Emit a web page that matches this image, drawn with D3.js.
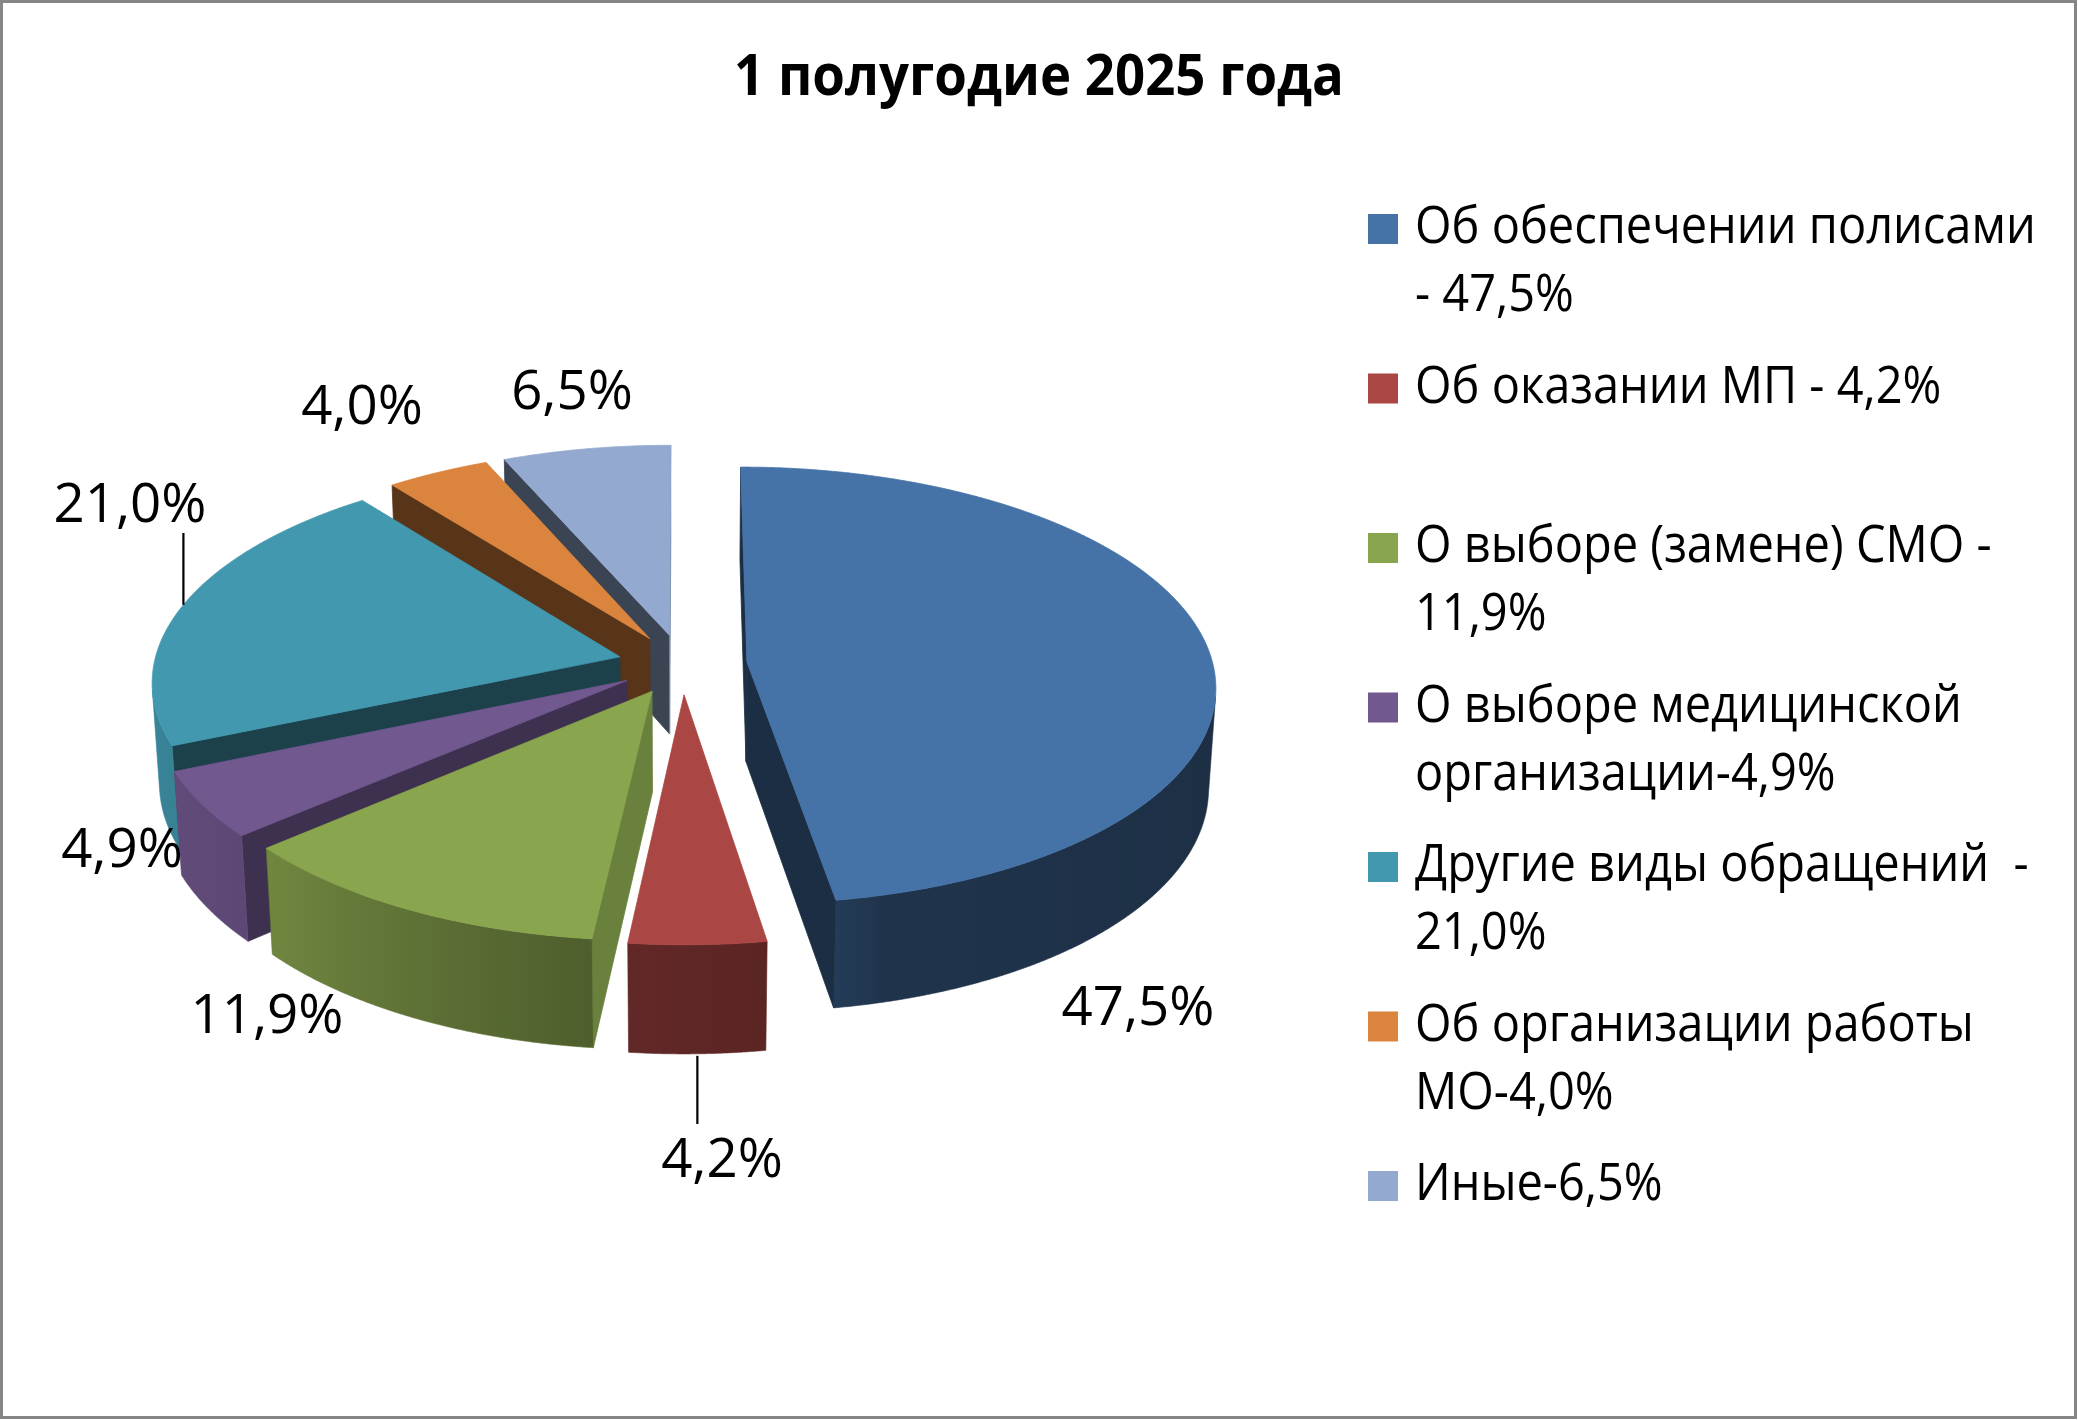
<!DOCTYPE html>
<html><head><meta charset="utf-8">
<script src="https://cdn.jsdelivr.net/npm/d3@7"></script>
<style>html,body{margin:0;padding:0;background:#fff;} svg{display:block;}</style>
</head><body>
<svg id="chart" width="2078" height="1420"></svg>
<script>
// ---------- data ----------
const chartTitle = "1 полугодие 2025 года";
const categories = ["Об обеспечении полисами", "Об оказании МП", "О выборе (замене) СМО",
  "О выборе медицинской организации", "Другие виды обращений", "Об организации работы МО", "Иные"];
const values = [47.5, 4.2, 11.9, 4.9, 21.0, 4.0, 6.5];
const valueLabels = ["47,5%", "4,2%", "11,9%", "4,9%", "21,0%", "4,0%", "6,5%"];
const legendLines = [
  ["Об обеспечении полисами", "- 47,5%"],
  ["Об оказании МП - 4,2%"],
  ["О выборе (замене) СМО -", "11,9%"],
  ["О выборе медицинской", "организации-4,9%"],
  ["Другие виды обращений  -", "21,0%"],
  ["Об организации работы", "МО-4,0%"],
  ["Иные-6,5%"]
];
const colors = ["#4572A7", "#AA4643", "#89A54E", "#71588F", "#4198AF", "#DB843D", "#93A9CF"];

// ---------- layout ----------
const W = 2078, H = 1420;
const FONT = "'Open Sans', 'Noto Sans', 'DejaVu Sans', sans-serif";
const labelPos = [[1138, 1025], [722, 1177], [267, 1033], [122, 867], [130, 522], [362, 424], [572, 409]];
const leaderIdx = [1, 4];
const cam = {x0: 682.4, y0: 664.3, f: 3854, d: 8.27, sinP: 0.464};
cam.cosP = Math.sqrt(1 - cam.sinP * cam.sinP);
const explode = 0.139, depth = 0.245;

const svg = d3.select("#chart");
svg.append("rect").attr("x", 1.5).attr("y", 1.5).attr("width", W - 4).attr("height", H - 4)
  .attr("fill", "#fff").attr("stroke", "#868686").attr("stroke-width", 3);

function fit(text, targetW, weight) {
  const t = svg.append("text").attr("font-family", FONT).attr("font-weight", weight || "normal")
    .attr("font-size", 100).style("white-space", "pre").text(text);
  const w = t.node().getComputedTextLength();
  t.remove();
  return 100 * targetW / w;
}
function addText(x, y, txt, size, opts) {
  const o = opts || {};
  return svg.append("text")
    .attr("transform", `translate(${x},${y}) scale(1,${o.sy || 1})`)
    .attr("text-anchor", o.anchor || "start").attr("font-family", FONT)
    .attr("font-weight", o.weight || "normal").attr("font-size", size)
    .attr("fill", "#000").style("white-space", "pre").text(txt);
}

// ---------- 3D projection ----------
function project(X, Y, Z) {
  const zc = cam.d - Y * cam.sinP - Z * cam.cosP;
  return [cam.x0 + cam.f * X / zc, cam.y0 - cam.f * (Y * cam.cosP - Z * cam.sinP) / zc];
}
const camZ = cam.d * cam.cosP;
const pie = d3.pie().sort(null).value(d => d).startAngle(0).endAngle(2 * Math.PI);
const arcs = pie(values);
const slices = arcs.map((a, i) => {
  const m = (a.startAngle + a.endAngle) / 2;
  return {i, a0: a.startAngle, a1: a.endAngle, m,
    ox: explode * Math.sin(m), oz: -explode * Math.cos(m),
    key: -(explode + 0.5) * Math.cos(m)};
});
const rim = (s, t, Y) => project(s.ox + Math.sin(t), Y, s.oz - Math.cos(t));
const apex = (s, Y) => project(s.ox, Y, s.oz);
const step = Math.PI / 720;
function angles(a0, a1) {
  const n = Math.max(2, Math.ceil((a1 - a0) / step));
  return d3.range(n + 1).map(k => a0 + (a1 - a0) * k / n);
}
const shade = (c, b) => d3.interpolateRgb("#000", c)(b);
const wallB = d3.scaleLinear().domain([90, 165, 172, 186, 229, 250, 280])
  .range([0.40, 0.45, 0.54, 0.57, 0.82, 0.86, 0.90]).clamp(true);
const faceB = (nx, nz) => 0.4 + 0.42 * Math.max(0, nx * 0.94 - nz * 0.34);
const line = d3.line();
const defs = svg.append("defs");
const gPie = svg.append("g");

slices.slice().sort((p, q) => p.key - q.key).forEach(s => {
  const g = gPie.append("g");
  const col = colors[s.i];
  const poly = (pts, fill) => g.append("path").attr("d", line(pts) + "Z").attr("fill", fill)
    .attr("stroke", fill).attr("stroke-width", 0.8).attr("stroke-linejoin", "round");
  // radial faces
  const startVis = Math.cos(s.a0) * s.ox - Math.sin(s.a0) * (camZ - s.oz);
  const endVis = -Math.cos(s.a1) * s.ox + Math.sin(s.a1) * (camZ - s.oz);
  if (startVis > 0) {
    const c = shade(col, faceB(-Math.cos(s.a0), -Math.sin(s.a0)));
    poly([apex(s, 0), rim(s, s.a0, 0), rim(s, s.a0, -depth), apex(s, -depth)], c);
  }
  if (endVis > 0) {
    const c = shade(col, faceB(Math.cos(s.a1), Math.sin(s.a1)));
    poly([apex(s, 0), rim(s, s.a1, 0), rim(s, s.a1, -depth), apex(s, -depth)], c);
  }
  // outer wall
  const vis = angles(s.a0, s.a1).filter(t =>
    -Math.sin(t) * s.ox + Math.cos(t) * s.oz - 1 - Math.cos(t) * camZ > 0);
  if (vis.length > 1) {
    const top = vis.map(t => rim(s, t, 0));
    const bot = vis.map(t => rim(s, t, -depth)).reverse();
    const xs = top.map(p => p[0]);
    const x0 = d3.min(xs), x1 = d3.max(xs);
    const gid = "wall" + s.i;
    const grad = defs.append("linearGradient").attr("id", gid)
      .attr("gradientUnits", "userSpaceOnUse").attr("x1", x0).attr("x2", x1).attr("y1", 0).attr("y2", 0);
    const stops = [];
    for (let k = 0; k < vis.length; k += 8) stops.push(k);
    if (stops[stops.length - 1] !== vis.length - 1) stops.push(vis.length - 1);
    stops.map(k => ({o: (xs[k] - x0) / Math.max(1, x1 - x0), c: shade(col, wallB(vis[k] * 180 / Math.PI))}))
      .sort((a, b) => a.o - b.o)
      .forEach(st => grad.append("stop").attr("offset", st.o).attr("stop-color", st.c));
    g.append("path").attr("d", line(top.concat(bot)) + "Z").attr("fill", `url(#${gid})`)
      .attr("stroke", shade(col, wallB(vis[Math.floor(vis.length / 2)] * 180 / Math.PI)))
      .attr("stroke-width", 0.6);
  }
  // top face
  poly([apex(s, 0)].concat(angles(s.a0, s.a1).map(t => rim(s, t, 0))), col);
});

// ---------- data labels ----------
const labelSize = fit("47,5%", 153);
const capH = labelSize * 0.714;
valueLabels.forEach((txt, i) => {
  addText(labelPos[i][0], labelPos[i][1], txt, labelSize, {anchor: "middle"});
});
leaderIdx.forEach(i => {
  const s = slices[i];
  const front = Math.cos(s.m) < 0;
  const p = rim(s, s.m, front ? -depth : 0);
  const below = labelPos[i][1] > p[1];
  const yEnd = below ? labelPos[i][1] - capH - 14 : labelPos[i][1] + 11;
  svg.append("line").attr("x1", p[0]).attr("x2", p[0]).attr("y1", p[1] + (front ? 2 : 0)).attr("y2", yEnd)
    .attr("stroke", "#000").attr("stroke-width", 2.2);
});

// ---------- legend ----------
const legSize = fit(legendLines[0][0], 621);
const legX = 1368, legTextX = 1415, legY0 = 243, legStep = 159.5, legLineH = 68, mk = 30;
legendLines.forEach((lines, i) => {
  const y = legY0 + i * legStep;
  svg.append("rect").attr("x", legX).attr("y", y - 29).attr("width", mk).attr("height", mk)
    .attr("fill", colors[i]);
  lines.forEach((ln, j) => addText(legTextX, y + j * legLineH, ln, legSize, {sy: 1.07}));
});

// ---------- title ----------
const titleSize = fit(chartTitle, 610, "bold");
addText(1039, 95, chartTitle, titleSize, {anchor: "middle", weight: "bold", sy: 1.08});
</script>
</body></html>
